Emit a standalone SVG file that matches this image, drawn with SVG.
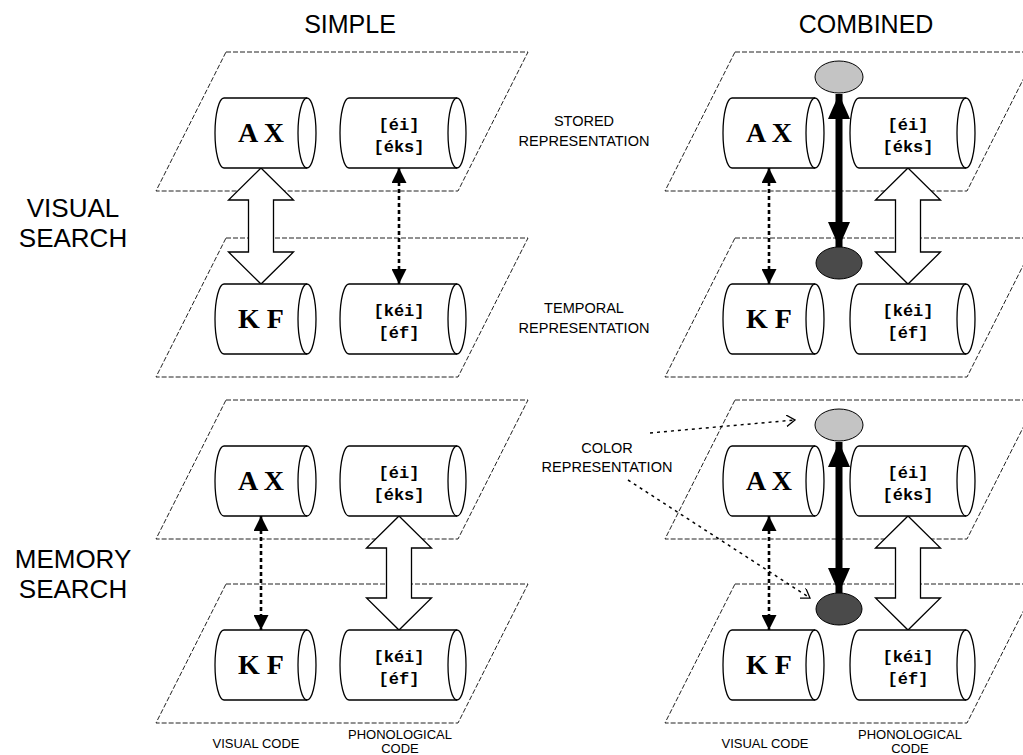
<svg xmlns="http://www.w3.org/2000/svg" width="1023" height="755" viewBox="0 0 1023 755">
  <style>
    .plane { fill: none; stroke: #222; stroke-width: 1; stroke-dasharray: 5 2; }
    .cyl { fill: #fff; stroke: #000; stroke-width: 1.3; }
    .cyl-in { fill: none; stroke: #000; stroke-width: 1.3; }
    .vis { font-family: "Liberation Serif", "Times New Roman", serif; font-weight: bold; font-size: 28px; text-anchor: middle; fill: #000; }
    .pho { font-family: "Liberation Mono", "Courier New", monospace; font-weight: bold; font-size: 17px; text-anchor: middle; fill: #000; }
    .title { font-family: "Liberation Sans", Arial, sans-serif; font-size: 25px; text-anchor: middle; fill: #000; }
    .row { font-family: "Liberation Sans", Arial, sans-serif; font-size: 26px; text-anchor: middle; fill: #000; }
    .lab { font-family: "Liberation Sans", Arial, sans-serif; font-size: 14.5px; text-anchor: middle; fill: #000; }
    .code { font-family: "Liberation Sans", Arial, sans-serif; font-size: 13px; text-anchor: middle; fill: #000; }
    .hollow { fill: #fff; stroke: #000; stroke-width: 1.3; stroke-linejoin: miter; }
    .dot { stroke: #000; stroke-width: 2.6; stroke-dasharray: 4 3; fill: none; }
    .bold { stroke: #000; stroke-width: 7; fill: none; }
    .thin-dot { stroke: #000; stroke-width: 1.5; stroke-dasharray: 3 4; fill: none; }
    .light { fill: #c4c4c4; stroke: #000; stroke-width: 1; }
    .dark { fill: #4a4a4a; stroke: #000; stroke-width: 1; }
  </style>
  <defs>
    <marker id="tri" viewBox="0 0 16 15" refX="15" refY="7.5" markerWidth="16" markerHeight="15" markerUnits="userSpaceOnUse" orient="auto-start-reverse">
      <path d="M0,0 L15,7.5 L0,15 Z" fill="#000"/>
    </marker>
    <marker id="bigtri" viewBox="0 0 25 22" refX="25" refY="11" markerWidth="25" markerHeight="22" markerUnits="userSpaceOnUse" orient="auto-start-reverse">
      <path d="M0,0 L25,11 L0,22 Z" fill="#000"/>
    </marker>
    <marker id="chev" viewBox="0 0 10 12" refX="9" refY="6" markerWidth="10" markerHeight="12" markerUnits="userSpaceOnUse" orient="auto">
      <path d="M0,0 L9,6 L0,12" fill="none" stroke="#000" stroke-width="1.3"/>
    </marker>
  </defs>

  <!-- column and row headings -->
  <g id="headings">
    <text class="title" x="350" y="33">SIMPLE</text>
    <text class="title" x="866" y="33">COMBINED</text>
    <text class="row" x="73" y="217">VISUAL</text>
    <text class="row" x="73" y="247">SEARCH</text>
    <text class="row" x="73" y="568">MEMORY</text>
    <text class="row" x="73" y="598">SEARCH</text>
    <text class="lab" x="584" y="126">STORED</text>
    <text class="lab" x="584" y="146">REPRESENTATION</text>
    <text class="lab" x="584" y="313">TEMPORAL</text>
    <text class="lab" x="584" y="333">REPRESENTATION</text>
    <text class="lab" x="607" y="453">COLOR</text>
    <text class="lab" x="607" y="472">REPRESENTATION</text>
    <text class="code" x="256" y="748">VISUAL CODE</text>
    <text class="code" x="400" y="739">PHONOLOGICAL</text>
    <text class="code" x="400" y="753">CODE</text>
    <text class="code" x="765" y="748">VISUAL CODE</text>
    <text class="code" x="910" y="739">PHONOLOGICAL</text>
    <text class="code" x="910" y="753">CODE</text>
  </g>

  <!-- representation planes -->
  <g id="planes">
    <polygon id="plane-vs-stored" class="plane" points="226,52 528,52 458,191 156,191"/>
    <polygon id="plane-vs-temporal" class="plane" points="226,238 528,238 458,377 156,377"/>
    <polygon id="plane-ms-stored" class="plane" points="226,400 528,400 458,539 156,539"/>
    <polygon id="plane-ms-temporal" class="plane" points="226,584 528,584 458,723 156,723"/>
    <polygon id="plane-vc-stored" class="plane" points="735,52 1037,52 967,191 665,191"/>
    <polygon id="plane-vc-temporal" class="plane" points="735,238 1037,238 967,377 665,377"/>
    <polygon id="plane-mc-stored" class="plane" points="735,400 1037,400 967,539 665,539"/>
    <polygon id="plane-mc-temporal" class="plane" points="735,584 1037,584 967,723 665,723"/>
  </g>

  <!-- connectors -->
  <g id="connectors">
    <!-- visual search, simple -->
    <polygon class="hollow" points="261,168 293.5,200 273.5,200 273.5,252 293.5,252 261,284 228.5,252 248.5,252 248.5,200 228.5,200"/>
    <line class="dot" x1="399" y1="168" x2="399" y2="284" marker-start="url(#tri)" marker-end="url(#tri)"/>
    <!-- memory search, simple -->
    <line class="dot" x1="261" y1="516" x2="261" y2="630" marker-start="url(#tri)" marker-end="url(#tri)"/>
    <polygon class="hollow" points="399,516 431.5,548 411.5,548 411.5,598 431.5,598 399,630 366.5,598 386.5,598 386.5,548 366.5,548"/>
    <!-- visual search, combined -->
    <line class="dot" x1="769" y1="168" x2="769" y2="284" marker-start="url(#tri)" marker-end="url(#tri)"/>
    <polygon class="hollow" points="908,168 940.5,200 920.5,200 920.5,252 940.5,252 908,284 875.5,252 895.5,252 895.5,200 875.5,200"/>
    <line class="bold" x1="839" y1="94" x2="839" y2="247" marker-start="url(#bigtri)" marker-end="url(#bigtri)"/>
    <!-- memory search, combined -->
    <line class="dot" x1="769" y1="516" x2="769" y2="630" marker-start="url(#tri)" marker-end="url(#tri)"/>
    <polygon class="hollow" points="908,516 940.5,548 920.5,548 920.5,598 940.5,598 908,630 875.5,598 895.5,598 895.5,548 875.5,548"/>
    <line class="bold" x1="839" y1="442" x2="839" y2="593" marker-start="url(#bigtri)" marker-end="url(#bigtri)"/>
    <!-- colour representation pointers -->
    <line class="thin-dot" x1="650" y1="433" x2="795" y2="420" marker-end="url(#chev)"/>
    <line class="thin-dot" x1="628" y1="480" x2="810" y2="598" marker-end="url(#chev)"/>
  </g>

  <!-- colour representation nodes -->
  <g id="color-vc-stored"><ellipse class="light" cx="839" cy="77" rx="24" ry="16"/></g>
  <g id="color-vc-temporal"><ellipse class="dark" cx="839" cy="263" rx="23" ry="16"/></g>
  <g id="color-mc-stored"><ellipse class="light" cx="839" cy="425" rx="24" ry="16"/></g>
  <g id="color-mc-temporal"><ellipse class="dark" cx="839" cy="609" rx="23" ry="16"/></g>

  <!-- visual search, simple -->
  <g id="vs-stored-visual">
    <path class="cyl" d="M224,98 L307,98 A9,35 0 0 1 307,168 L224,168 A9,35 0 0 1 224,98 Z"/>
    <path class="cyl-in" d="M307,98 A9,35 0 0 0 307,168"/>
    <text class="vis" x="261" y="142">A X</text>
  </g>
  <g id="vs-stored-phon">
    <path class="cyl" d="M349,98 L457,98 A9,35 0 0 1 457,168 L349,168 A9,35 0 0 1 349,98 Z"/>
    <path class="cyl-in" d="M457,98 A9,35 0 0 0 457,168"/>
    <text class="pho" x="399" y="130">[éi]</text>
    <text class="pho" x="399" y="152">[éks]</text>
  </g>
  <g id="vs-temporal-visual">
    <path class="cyl" d="M224,284 L307,284 A9,35 0 0 1 307,354 L224,354 A9,35 0 0 1 224,284 Z"/>
    <path class="cyl-in" d="M307,284 A9,35 0 0 0 307,354"/>
    <text class="vis" x="261" y="328">K F</text>
  </g>
  <g id="vs-temporal-phon">
    <path class="cyl" d="M349,284 L457,284 A9,35 0 0 1 457,354 L349,354 A9,35 0 0 1 349,284 Z"/>
    <path class="cyl-in" d="M457,284 A9,35 0 0 0 457,354"/>
    <text class="pho" x="399" y="316">[kéi]</text>
    <text class="pho" x="399" y="338">[éf]</text>
  </g>

  <!-- memory search, simple -->
  <g id="ms-stored-visual">
    <path class="cyl" d="M224,446 L307,446 A9,35 0 0 1 307,516 L224,516 A9,35 0 0 1 224,446 Z"/>
    <path class="cyl-in" d="M307,446 A9,35 0 0 0 307,516"/>
    <text class="vis" x="261" y="490">A X</text>
  </g>
  <g id="ms-stored-phon">
    <path class="cyl" d="M349,446 L457,446 A9,35 0 0 1 457,516 L349,516 A9,35 0 0 1 349,446 Z"/>
    <path class="cyl-in" d="M457,446 A9,35 0 0 0 457,516"/>
    <text class="pho" x="399" y="478">[éi]</text>
    <text class="pho" x="399" y="500">[éks]</text>
  </g>
  <g id="ms-temporal-visual">
    <path class="cyl" d="M224,630 L307,630 A9,35 0 0 1 307,700 L224,700 A9,35 0 0 1 224,630 Z"/>
    <path class="cyl-in" d="M307,630 A9,35 0 0 0 307,700"/>
    <text class="vis" x="261" y="674">K F</text>
  </g>
  <g id="ms-temporal-phon">
    <path class="cyl" d="M349,630 L457,630 A9,35 0 0 1 457,700 L349,700 A9,35 0 0 1 349,630 Z"/>
    <path class="cyl-in" d="M457,630 A9,35 0 0 0 457,700"/>
    <text class="pho" x="399" y="662">[kéi]</text>
    <text class="pho" x="399" y="684">[éf]</text>
  </g>

  <!-- visual search, combined -->
  <g id="vc-stored-visual">
    <path class="cyl" d="M732,98 L815,98 A9,35 0 0 1 815,168 L732,168 A9,35 0 0 1 732,98 Z"/>
    <path class="cyl-in" d="M815,98 A9,35 0 0 0 815,168"/>
    <text class="vis" x="769" y="142">A X</text>
  </g>
  <g id="vc-stored-phon">
    <path class="cyl" d="M859,98 L966,98 A9,35 0 0 1 966,168 L859,168 A9,35 0 0 1 859,98 Z"/>
    <path class="cyl-in" d="M966,98 A9,35 0 0 0 966,168"/>
    <text class="pho" x="908" y="130">[éi]</text>
    <text class="pho" x="908" y="152">[éks]</text>
  </g>
  <g id="vc-temporal-visual">
    <path class="cyl" d="M732,284 L815,284 A9,35 0 0 1 815,354 L732,354 A9,35 0 0 1 732,284 Z"/>
    <path class="cyl-in" d="M815,284 A9,35 0 0 0 815,354"/>
    <text class="vis" x="769" y="328">K F</text>
  </g>
  <g id="vc-temporal-phon">
    <path class="cyl" d="M859,284 L966,284 A9,35 0 0 1 966,354 L859,354 A9,35 0 0 1 859,284 Z"/>
    <path class="cyl-in" d="M966,284 A9,35 0 0 0 966,354"/>
    <text class="pho" x="908" y="316">[kéi]</text>
    <text class="pho" x="908" y="338">[éf]</text>
  </g>

  <!-- memory search, combined -->
  <g id="mc-stored-visual">
    <path class="cyl" d="M732,446 L815,446 A9,35 0 0 1 815,516 L732,516 A9,35 0 0 1 732,446 Z"/>
    <path class="cyl-in" d="M815,446 A9,35 0 0 0 815,516"/>
    <text class="vis" x="769" y="490">A X</text>
  </g>
  <g id="mc-stored-phon">
    <path class="cyl" d="M859,446 L966,446 A9,35 0 0 1 966,516 L859,516 A9,35 0 0 1 859,446 Z"/>
    <path class="cyl-in" d="M966,446 A9,35 0 0 0 966,516"/>
    <text class="pho" x="908" y="478">[éi]</text>
    <text class="pho" x="908" y="500">[éks]</text>
  </g>
  <g id="mc-temporal-visual">
    <path class="cyl" d="M732,630 L815,630 A9,35 0 0 1 815,700 L732,700 A9,35 0 0 1 732,630 Z"/>
    <path class="cyl-in" d="M815,630 A9,35 0 0 0 815,700"/>
    <text class="vis" x="769" y="674">K F</text>
  </g>
  <g id="mc-temporal-phon">
    <path class="cyl" d="M859,630 L966,630 A9,35 0 0 1 966,700 L859,700 A9,35 0 0 1 859,630 Z"/>
    <path class="cyl-in" d="M966,630 A9,35 0 0 0 966,700"/>
    <text class="pho" x="908" y="662">[kéi]</text>
    <text class="pho" x="908" y="684">[éf]</text>
  </g>
</svg>
